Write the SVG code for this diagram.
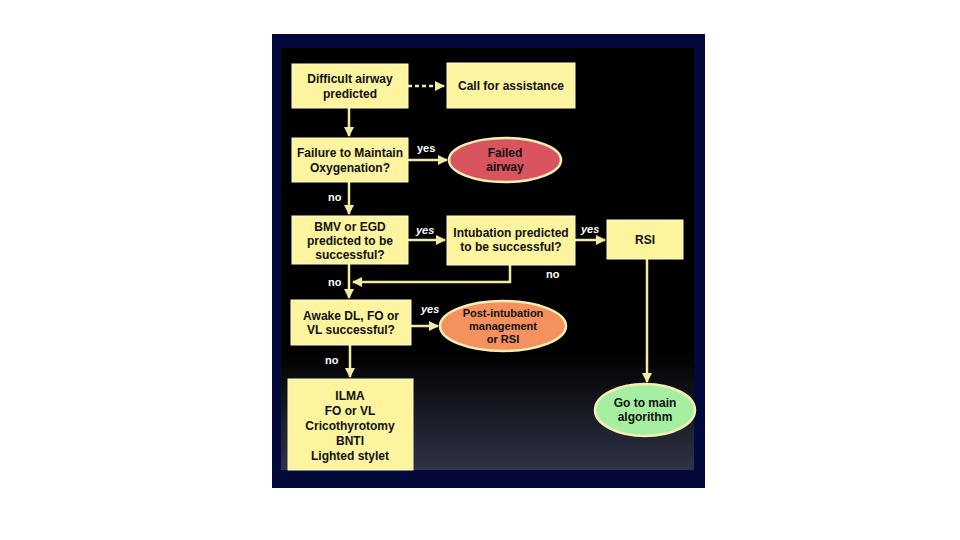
<svg xmlns="http://www.w3.org/2000/svg" width="960" height="540" viewBox="0 0 960 540">
<defs>
<linearGradient id="bg" x1="0" y1="0" x2="0" y2="1">
<stop offset="0" stop-color="#000000"/>
<stop offset="0.72" stop-color="#000000"/>
<stop offset="1" stop-color="#2e3346"/>
</linearGradient>
<marker id="ah2" viewBox="0 0 10 10" refX="9" refY="5" markerWidth="10" markerHeight="10" orient="auto" markerUnits="userSpaceOnUse">
<path d="M0,0 L10,5 L0,10 z" fill="#f3eca0"/>
</marker>
</defs>
<style>
.box{fill:#fcf49e;stroke:#fffbd0;stroke-width:1}
.t{font-family:"Liberation Sans",Arial,sans-serif;font-weight:bold;font-size:12px;fill:#111;text-anchor:middle}
.s{font-size:11px}
.lbl{font-family:"Liberation Sans",Arial,sans-serif;font-weight:bold;font-size:11px;fill:#ffffff}
.it{font-style:italic}
.c{fill:none;stroke:#f3eca0;stroke-width:2.5}
</style>
<rect x="0" y="0" width="960" height="540" fill="#ffffff"/>
<rect x="272" y="34" width="433" height="454" fill="#03093a"/>
<rect x="281" y="48" width="413" height="422" fill="url(#bg)"/>

<g id="connectors">
<line class="c" x1="408" y1="86" x2="444" y2="86" stroke-width="3.5" stroke-dasharray="4,3" marker-end="url(#ah2)"/>
<line class="c" x1="349" y1="108" x2="349" y2="136" marker-end="url(#ah2)"/>
<line class="c" x1="408" y1="160" x2="447" y2="160" marker-end="url(#ah2)"/>
<line class="c" x1="349" y1="182" x2="349" y2="214" marker-end="url(#ah2)"/>
<line class="c" x1="408" y1="240" x2="445" y2="240" marker-end="url(#ah2)"/>
<line class="c" x1="575" y1="240" x2="605" y2="240" marker-end="url(#ah2)"/>
<polyline class="c" points="510,265 510,282 353,282" marker-end="url(#ah2)"/>
<line class="c" x1="349" y1="264" x2="349" y2="298" marker-end="url(#ah2)"/>
<line class="c" x1="411" y1="326" x2="438" y2="326" marker-end="url(#ah2)"/>
<line class="c" x1="350" y1="345" x2="350" y2="377" marker-end="url(#ah2)"/>
<line class="c" x1="647" y1="259" x2="647" y2="382" marker-end="url(#ah2)"/>
<text class="lbl" x="417" y="152">yes</text>
<text class="lbl" x="328" y="201">no</text>
<text class="lbl it" x="416" y="234">yes</text>
<text class="lbl it" x="581" y="233">yes</text>
<text class="lbl" x="546" y="278">no</text>
<text class="lbl" x="328" y="286">no</text>
<text class="lbl it" x="421" y="313">yes</text>
<text class="lbl" x="325" y="364">no</text>
</g>

<g id="n1"><rect class="box" x="292" y="64" width="116" height="44"/>
<text class="t" x="350" y="83">Difficult airway</text><text class="t" x="350" y="98">predicted</text></g>
<g id="n2"><rect class="box" x="447" y="63" width="128" height="45"/>
<text class="t" x="511" y="90">Call for assistance</text></g>
<g id="n3"><rect class="box" x="292" y="138" width="116" height="44"/>
<text class="t" x="350" y="157">Failure to Maintain</text><text class="t" x="350" y="172">Oxygenation?</text></g>
<g id="n4"><ellipse cx="505" cy="160" rx="56" ry="22" fill="#d9545e" stroke="#f6efb0" stroke-width="2.5"/>
<text class="t" x="505" y="157">Failed</text><text class="t" x="505" y="171">airway</text></g>
<g id="n5"><rect class="box" x="292" y="216" width="116" height="48"/>
<text class="t" x="350" y="231">BMV or EGD</text><text class="t" x="350" y="245">predicted to be</text><text class="t" x="350" y="259">successful?</text></g>
<g id="n6"><rect class="box" x="447" y="216" width="128" height="49"/>
<text class="t" x="511" y="237">Intubation predicted</text><text class="t" x="511" y="251">to be successful?</text></g>
<g id="n7"><rect class="box" x="607" y="220" width="76" height="39"/>
<text class="t" x="645" y="244">RSI</text></g>
<g id="n8"><rect class="box" x="291" y="300" width="120" height="45"/>
<text class="t" x="351" y="320">Awake DL, FO or</text><text class="t" x="351" y="334">VL successful?</text></g>
<g id="n9"><ellipse cx="503" cy="326" rx="63" ry="25" fill="#f4915e" stroke="#f6efb0" stroke-width="2.5"/>
<text class="t s" x="503" y="317">Post-intubation</text><text class="t s" x="503" y="330">management</text><text class="t s" x="503" y="343">or RSI</text></g>
<g id="n10"><rect class="box" x="288" y="379" width="125" height="91"/>
<text class="t" x="350" y="400">ILMA</text><text class="t" x="350" y="415">FO or VL</text><text class="t" x="350" y="430">Cricothyrotomy</text><text class="t" x="350" y="445">BNTI</text><text class="t" x="350" y="460">Lighted stylet</text></g>
<g id="n11"><ellipse cx="645" cy="410" rx="50" ry="26" fill="#a6eea2" stroke="#f6efb0" stroke-width="2.5"/>
<text class="t" x="645" y="407">Go to main</text><text class="t" x="645" y="421">algorithm</text></g>
</svg>
